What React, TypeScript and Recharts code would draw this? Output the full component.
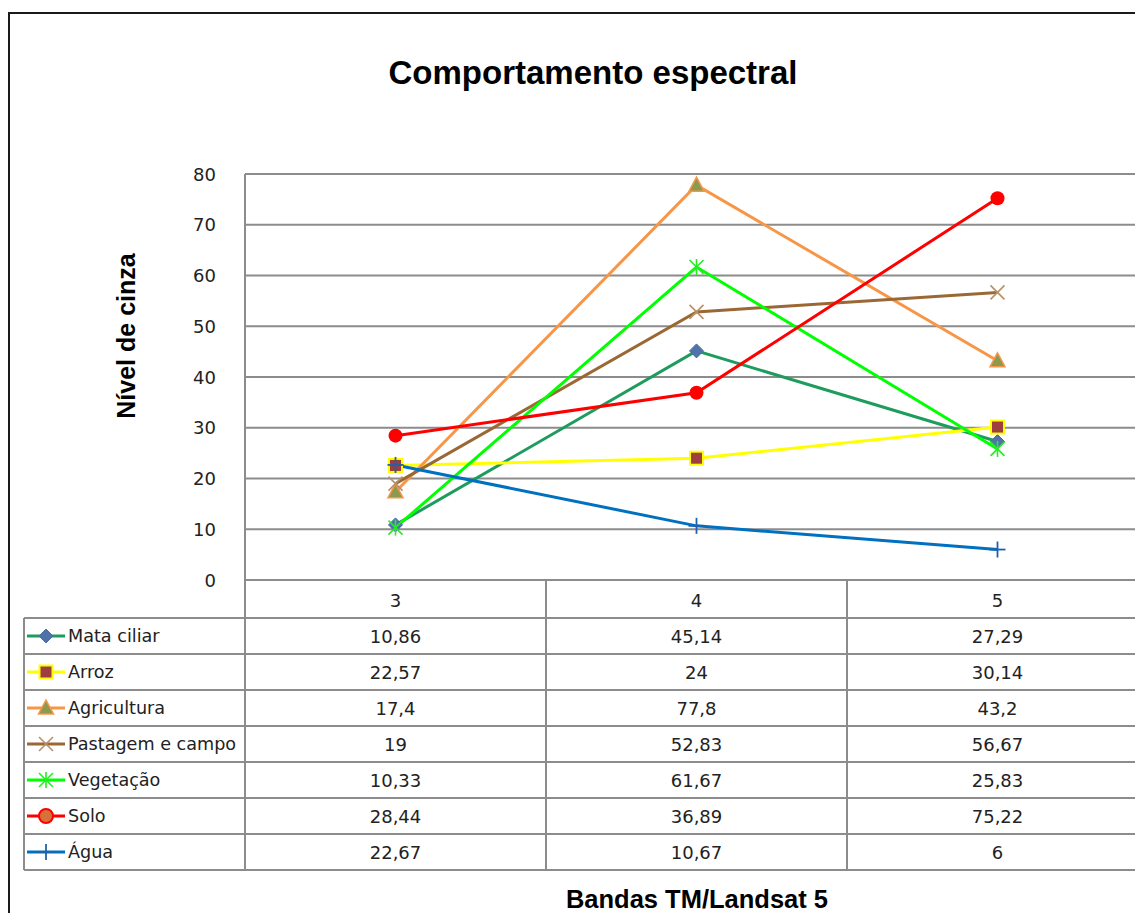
import React from "react";
import { LineChart, Line, XAxis, YAxis, CartesianGrid } from "recharts";

const bands = ["3", "4", "5"];
const yTicks = [0, 10, 20, 30, 40, 50, 60, 70, 80];

const mataCiliar = [10.86, 45.14, 27.29];
const arroz = [22.57, 24, 30.14];
const agricultura = [17.4, 77.8, 43.2];
const pastagem = [19, 52.83, 56.67];
const vegetacao = [10.33, 61.67, 25.83];
const solo = [28.44, 36.89, 75.22];
const agua = [22.67, 10.67, 6];

const seriesList = [
  { key: "mata", name: "Mata ciliar", values: mataCiliar, color: "#1E9C5E", marker: "diamond" },
  { key: "arroz", name: "Arroz", values: arroz, color: "#FFFF00", marker: "square" },
  { key: "agri", name: "Agricultura", values: agricultura, color: "#F79646", marker: "triangle" },
  { key: "past", name: "Pastagem e campo", values: pastagem, color: "#9A6834", marker: "x" },
  { key: "veg", name: "Vegetação", values: vegetacao, color: "#00FF00", marker: "star" },
  { key: "solo", name: "Solo", values: solo, color: "#FF0000", marker: "circle" },
  { key: "agua", name: "Água", values: agua, color: "#0070C0", marker: "plus" },
];

const data = bands.map((band, i) => {
  const row: Record<string, any> = { band };
  seriesList.forEach((s) => (row[s.key] = s.values[i]));
  return row;
});

// layout
const PLOT_LEFT = 245;
const PLOT_TOP = 174;
const PLOT_BOTTOM = 580;
const BAND = 301;
const CHART_W = PLOT_LEFT + BAND * 3 + 12;
const HEADER_BOTTOM = 618;
const ROW_H = 36;
const TABLE_LEFT = 24;
const GRID = "#8C8C8C";
const TXT = "'DejaVu Sans', Verdana, sans-serif";
const HEAD = "'Liberation Sans', Arial, sans-serif";

function Marker({ type, cx, cy, legend }: { type: string; cx: number; cy: number; legend?: boolean }) {
  switch (type) {
    case "diamond":
      return (
        <polygon
          points={`${cx},${cy - 7} ${cx + 7},${cy} ${cx},${cy + 7} ${cx - 7},${cy}`}
          fill="#4F72A8"
          stroke="#4A6CA0"
          strokeWidth={1}
        />
      );
    case "square":
      return <rect x={cx - 6.5} y={cy - 6.5} width={13} height={13} fill="#9E3E3E" stroke="#FFFF00" strokeWidth={2} />;
    case "triangle":
      return (
        <polygon
          points={`${cx},${cy - 8} ${cx + 7.5},${cy + 6} ${cx - 7.5},${cy + 6}`}
          fill="#8B9A4E"
          stroke="#F79646"
          strokeWidth={1.5}
        />
      );
    case "x":
      return (
        <g stroke="#B8906A" strokeWidth={1.6}>
          <line x1={cx - 7} y1={cy - 7} x2={cx + 7} y2={cy + 7} />
          <line x1={cx - 7} y1={cy + 7} x2={cx + 7} y2={cy - 7} />
        </g>
      );
    case "star":
      return (
        <g stroke="#22EE22" strokeWidth={1.6}>
          <line x1={cx - 7} y1={cy - 7} x2={cx + 7} y2={cy + 7} />
          <line x1={cx - 7} y1={cy + 7} x2={cx + 7} y2={cy - 7} />
          <line x1={cx} y1={cy - 8} x2={cx} y2={cy + 8} />
        </g>
      );
    case "circle":
      return <circle cx={cx} cy={cy} r={7} fill={legend ? "#D8703C" : "#FF0000"} stroke="#FF0000" strokeWidth={legend ? 2 : 0} />;
    case "plus":
      return (
        <g stroke="#1F62A8" strokeWidth={1.8}>
          <line x1={cx - 8} y1={cy} x2={cx + 8} y2={cy} />
          <line x1={cx} y1={cy - 8} x2={cx} y2={cy + 8} />
        </g>
      );
    default:
      return null;
  }
}

const fmt = (v: number) => String(v).replace(".", ",");

function YTick(props: any) {
  const { y, payload } = props;
  return (
    <text x={216} y={y} textAnchor="end" dominantBaseline="central" fontFamily={TXT} fontSize={18} fill="#222">
      {payload.value}
    </text>
  );
}

function XTick(props: any) {
  const { x, payload } = props;
  return (
    <text x={x} y={600} textAnchor="middle" dominantBaseline="central" fontFamily={TXT} fontSize={18} fill="#222">
      {payload.value}
    </text>
  );
}

function Overlay() {
  const rowsBottom = HEADER_BOTTOM + ROW_H * seriesList.length;
  return (
    <svg width={1135} height={913} style={{ position: "absolute", left: 0, top: 0, pointerEvents: "none" }}>
      <rect x={9} y={13} width={1200} height={1000} fill="none" stroke="#1A1A1A" strokeWidth={2} />
      <text x={593} y={84} textAnchor="middle" fontFamily={HEAD} fontWeight="bold" fontSize={33} fill="#000">
        Comportamento espectral
      </text>
      <text
        x={135}
        y={336}
        textAnchor="middle"
        transform="rotate(-90 135 336)"
        fontFamily={HEAD}
        fontWeight="bold"
        fontSize={25}
        fill="#000"
      >
        Nível de cinza
      </text>
      <text x={697} y={908} textAnchor="middle" fontFamily={HEAD} fontWeight="bold" fontSize={25.5} fill="#000">
        Bandas TM/Landsat 5
      </text>

      {/* data table */}
      <g stroke={GRID} strokeWidth={2}>
        {seriesList.map((_, i) => (
          <line key={"h" + i} x1={TABLE_LEFT} x2={1135} y1={HEADER_BOTTOM + ROW_H * i} y2={HEADER_BOTTOM + ROW_H * i} />
        ))}
        <line x1={TABLE_LEFT} x2={1135} y1={rowsBottom} y2={rowsBottom} />
        <line x1={TABLE_LEFT} x2={TABLE_LEFT} y1={HEADER_BOTTOM} y2={rowsBottom} />
        {bands.map((_, i) => (
          <line
            key={"v" + i}
            x1={PLOT_LEFT + BAND * i}
            x2={PLOT_LEFT + BAND * i}
            y1={PLOT_BOTTOM}
            y2={rowsBottom}
          />
        ))}
      </g>
      {seriesList.map((s, i) => {
        const cy = HEADER_BOTTOM + ROW_H * i + ROW_H / 2;
        return (
          <g key={s.key}>
            <line x1={27} x2={65} y1={cy} y2={cy} stroke={s.color} strokeWidth={3} />
            <Marker type={s.marker} cx={46} cy={cy} legend />
            <text x={68} y={cy} dominantBaseline="central" fontFamily={TXT} fontSize={17.6} fill="#222">
              {s.name}
            </text>
            {s.values.map((v, j) => (
              <text
                key={j}
                x={PLOT_LEFT + BAND * (j + 0.5)}
                y={cy}
                textAnchor="middle"
                dominantBaseline="central"
                fontFamily={TXT}
                fontSize={18}
                fill="#222"
              >
                {fmt(v)}
              </text>
            ))}
          </g>
        );
      })}
    </svg>
  );
}

export default function App() {
  return (
    <div
      style={{
        position: "fixed",
        left: 0,
        top: 0,
        width: 1135,
        height: 913,
        overflow: "hidden",
        background: "#fff",
      }}
    >
      <div style={{ position: "absolute", left: 0, top: 0 }}>
        <LineChart
          width={CHART_W}
          height={913}
          data={data}
          margin={{ top: PLOT_TOP, right: 12, bottom: 913 - PLOT_BOTTOM - 38, left: 0 }}
        >
          <CartesianGrid vertical={false} stroke={GRID} strokeWidth={2} />
          <XAxis
            dataKey="band"
            height={38}
            padding={{ left: BAND / 2, right: BAND / 2 }}
            axisLine={{ stroke: GRID, strokeWidth: 2 }}
            tickLine={false}
            tick={<XTick />}
            interval={0}
          />
          <YAxis
            width={PLOT_LEFT}
            domain={[0, 80]}
            ticks={yTicks}
            interval={0}
            axisLine={{ stroke: GRID, strokeWidth: 2 }}
            tickLine={false}
            tick={<YTick />}
          />
          {seriesList.map((s) => (
            <Line
              key={s.key}
              dataKey={s.key}
              name={s.name}
              type="linear"
              stroke={s.color}
              strokeWidth={3}
              isAnimationActive={false}
              dot={(p: any) => (
                <g key={s.key + p.index}>
                  <Marker type={s.marker} cx={p.cx} cy={p.cy} />
                </g>
              )}
              activeDot={false}
            />
          ))}
        </LineChart>
      </div>
      <Overlay />
    </div>
  );
}
